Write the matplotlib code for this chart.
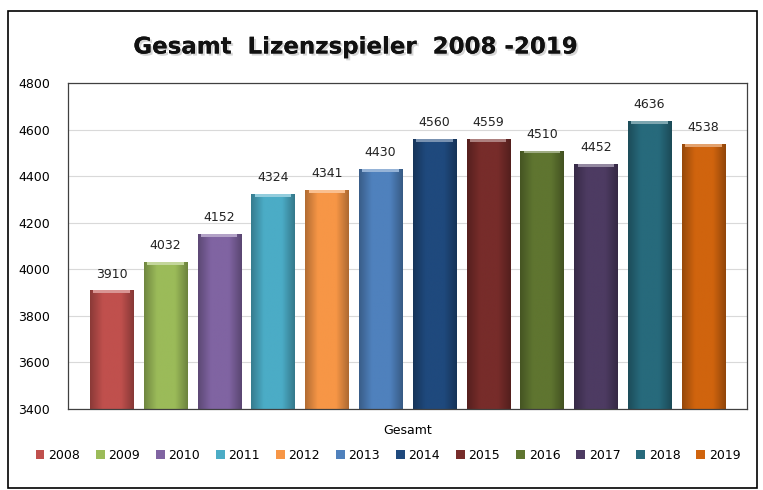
import matplotlib.pyplot as plt
import matplotlib.patheffects as pe
from matplotlib.colors import to_rgb
from matplotlib.patches import Rectangle, Patch
import numpy as np

years = ["2008", "2009", "2010", "2011", "2012", "2013",
         "2014", "2015", "2016", "2017", "2018", "2019"]
values = [3910, 4032, 4152, 4324, 4341, 4430, 4560, 4559, 4510, 4452, 4636, 4538]
colors = ["#C0504D", "#9BBB59", "#8064A2", "#4BACC6", "#F79646", "#4F81BD",
          "#1F497D", "#772C2A", "#5F7530", "#4D3B62", "#276A7C", "#D0640E"]
base = 3400

fig = plt.figure(figsize=(7.63, 4.90), dpi=100)
fig.patches.append(Rectangle((8 / 763, 1 - 488 / 490), 749 / 763, 477 / 490,
                             transform=fig.transFigure, fill=False,
                             edgecolor="black", linewidth=1.2))

ax = fig.add_axes([68 / 763, 1 - 409 / 490, 679 / 763, 326 / 490])
ax.set_yticks(np.arange(3400, 4801, 200))
ax.set_xticks([])
ax.grid(axis="y", color="#D9D9D9", linewidth=0.8)
ax.set_axisbelow(True)
for s in ax.spines.values():
    s.set_color("#404040")
    s.set_linewidth(0.9)
ax.tick_params(axis="y", length=0, pad=13, labelsize=9)

width = 0.8
x = np.arange(len(years))
heights = np.array(values) - base
bars = ax.bar(x, heights, width=width, bottom=base, color=colors,
              edgecolor="none", zorder=2)

# bevel-like horizontal shading inside each bar
shade = np.concatenate([np.linspace(0.72, 1.0, 30), np.full(40, 1.0),
                        np.linspace(1.0, 0.7, 30)])
for b, c in zip(bars, colors):
    rgb = np.array(to_rgb(c))
    img = np.clip(shade[None, :, None] * rgb[None, None, :], 0, 1)
    x0 = b.get_x()
    w = b.get_width()
    top = b.get_y() + b.get_height()
    im = ax.imshow(img, extent=(x0, x0 + w, b.get_y(), top), aspect="auto",
                   zorder=2, interpolation="bilinear")
    im.set_clip_path(b)
    # lighter cap
    cap = np.clip(rgb * 0.6 + 0.4, 0, 1)
    ax.add_patch(Rectangle((x0 + 0.06, top - 12), w - 0.12, 12,
                           facecolor=cap, edgecolor="none", zorder=3))
ax.set_xlim(-0.81, 11.81)
ax.set_ylim(3400, 4800)

for xi, v in zip(x, values):
    ax.annotate(str(v), (xi, v), xytext=(0, 7), textcoords="offset points",
                ha="center", va="bottom", fontsize=9, color="#222222")

fig.text(355 / 763, 1 - 47 / 490, "Gesamt  Lizenzspieler  2008 -2019",
         ha="center", va="center", fontsize=16.5, fontweight="bold",
         color="#111111",
         path_effects=[pe.withSimplePatchShadow(offset=(1.5, -1.5),
                                                shadow_rgbFace="#999999",
                                                alpha=0.4), pe.Normal()])

fig.text(408 / 763, 1 - 430 / 490, "Gesamt", ha="center", va="center",
         fontsize=9)

handles = [Patch(facecolor=c, edgecolor="none") for c in colors]
fig.legend(handles, years, loc="center", bbox_to_anchor=(388 / 763, 1 - 455 / 490),
           ncol=12, frameon=False, fontsize=9, handlelength=0.7,
           handleheight=0.7, handletextpad=0.3, columnspacing=1.27)

fig.savefig("out.png", dpi=100)
